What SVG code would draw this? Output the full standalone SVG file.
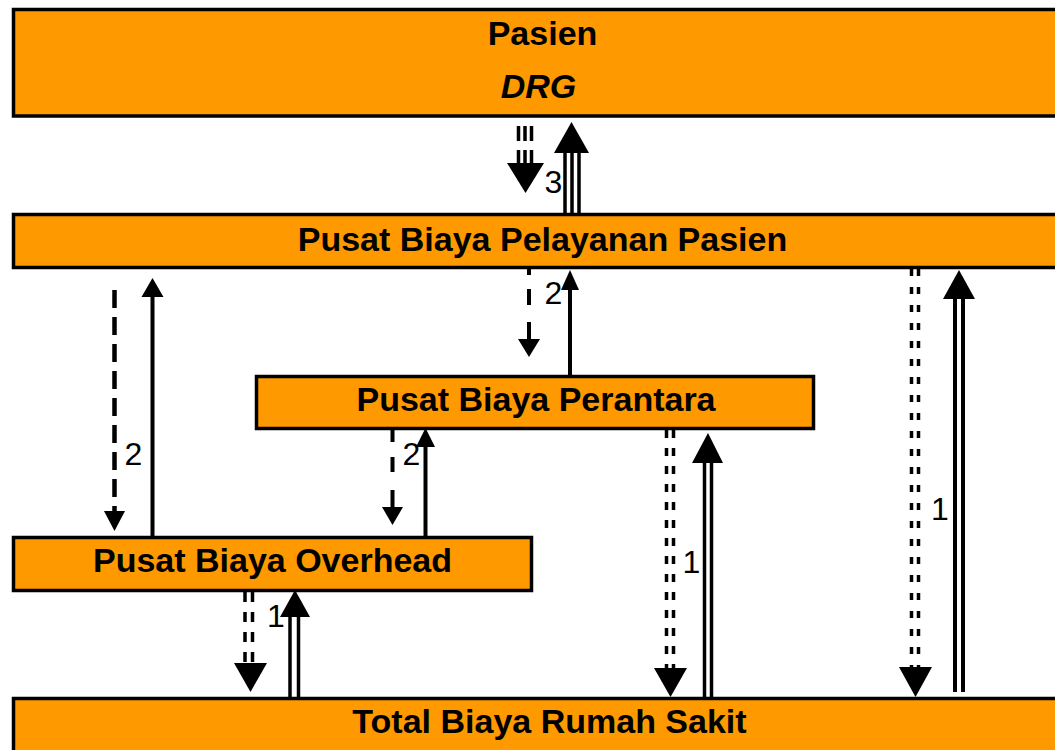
<svg xmlns="http://www.w3.org/2000/svg" width="1055" height="750" viewBox="0 0 1055 750">
  <style>
    .box { fill: #FF9900; stroke: #000; stroke-width: 3.5; }
    .title { font-family: "Liberation Sans", Arial, sans-serif; font-weight: bold; font-size: 34px; fill: #000; text-anchor: middle; }
    .num { font-family: "Liberation Sans", Arial, sans-serif; font-size: 32px; fill: #000; text-anchor: middle; }
    .solid { stroke: #000; stroke-width: 4; fill: none; }
    .thin { stroke: #000; stroke-width: 3.5; fill: none; }
    .dash { stroke: #000; stroke-width: 4.5; fill: none; stroke-dasharray: 18 9; }
    .dash2 { stroke: #000; stroke-width: 3.5; fill: none; }
    .head { fill: #000; stroke: none; }
  </style>

  <rect width="1055" height="750" fill="#fff"/>

  <!-- cost centres -->
  <g id="node-pasien">
    <rect class="box" x="13.5" y="9.5" width="1060" height="106.5"/>
    <text class="title" x="542.5" y="45">Pasien</text>
    <text class="title" x="538.5" y="98" font-style="italic">DRG</text>
  </g>
  <g id="node-pelayanan">
    <rect class="box" x="13.5" y="214.5" width="1060" height="53"/>
    <text class="title" x="542.5" y="251">Pusat Biaya Pelayanan Pasien</text>
  </g>
  <g id="node-perantara">
    <rect class="box" x="256.5" y="376.5" width="557" height="52"/>
    <text class="title" x="536" y="411">Pusat Biaya Perantara</text>
  </g>
  <g id="node-overhead">
    <rect class="box" x="13.5" y="537.5" width="518" height="53"/>
    <text class="title" x="272.5" y="572">Pusat Biaya Overhead</text>
  </g>
  <g id="node-total">
    <rect class="box" x="13.5" y="698.5" width="1060" height="70"/>
    <text class="title" x="549.5" y="733">Total Biaya Rumah Sakit</text>
  </g>

  <!-- allocation flows -->
  <g id="connectors">
    <!-- step 3: Pelayanan <-> Pasien -->
    <path class="thin" stroke-width="3" d="M518.5 126V141M525 126V141M531.5 126V141M518.5 150V163M525 150V163M531.5 150V163"/>
    <polygon class="head" points="507,163 544,163 525.5,193"/>
    <path class="thin" d="M565 214V152M572 214V152M579 214V152"/>
    <polygon class="head" points="554,153 589,153 571.5,122"/>
    <text class="num" x="553.5" y="193">3</text>

    <!-- step 2: Overhead <-> Pelayanan -->
    <line class="dash" x1="114.5" y1="290" x2="114.5" y2="512"/>
    <polygon class="head" points="104,511 125,511 114.5,531"/>
    <line class="solid" x1="152.5" y1="537" x2="152.5" y2="296"/>
    <polygon class="head" points="141.5,297 163.5,297 152.5,278"/>
    <text class="num" x="133.5" y="465">2</text>

    <!-- step 2: Perantara <-> Pelayanan -->
    <path class="solid" stroke-width="4.5" d="M529 268V275M529 289V305M529 322V340"/>
    <polygon class="head" points="518,339 540,339 529,357"/>
    <line class="solid" x1="570" y1="376" x2="570" y2="289"/>
    <polygon class="head" points="561,290 579,290 570,270"/>
    <text class="num" x="553.5" y="304">2</text>

    <!-- step 2: Overhead <-> Perantara -->
    <path class="solid" stroke-width="4.5" d="M392.5 430V442M392.5 457V472M392.5 490V508"/>
    <polygon class="head" points="382,507 403,507 392.5,525"/>
    <line class="solid" x1="425.5" y1="537" x2="425.5" y2="446"/>
    <polygon class="head" points="416,447 435,447 425.5,428"/>
    <text class="num" x="411.5" y="465">2</text>

    <!-- step 1: Total <-> Overhead -->
    <text class="num" x="276" y="627">1</text>
    <path class="dash2" stroke-dasharray="10 10" d="M245 592V664M252.5 592V664"/>
    <polygon class="head" points="234,663 267,663 250.5,692"/>
    <path class="thin" d="M290 697V616M298.5 697V616"/>
    <polygon class="head" points="280,617 310,617 295,590"/>

    <!-- step 1: Total <-> Perantara -->
    <path class="dash2" stroke-dasharray="8 10" d="M666.5 430V669M673.5 430V669"/>
    <polygon class="head" points="654,668 687,668 670.5,697"/>
    <path class="thin" d="M704.5 697V462M711.5 697V462"/>
    <polygon class="head" points="692,463 723,463 708,433"/>
    <text class="num" x="691.5" y="573">1</text>

    <!-- step 1: Total <-> Pelayanan -->
    <path class="dash2" stroke-dasharray="7 11" d="M911.5 269V668M918.5 269V668"/>
    <polygon class="head" points="899,667 932,667 915.5,697"/>
    <path class="solid" d="M955 692V298M963 692V298"/>
    <polygon class="head" points="943,299 975,299 959,270"/>
    <text class="num" x="940" y="520">1</text>
  </g>
</svg>
